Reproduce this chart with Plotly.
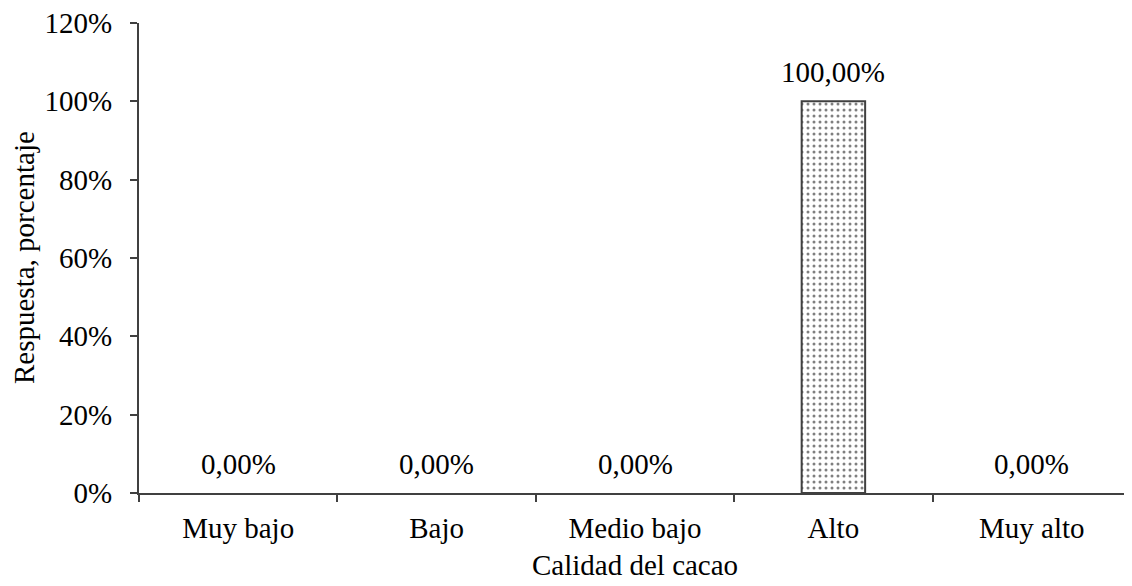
"""
Calidad del cacao: distribución de respuestas.
"""

import plotly.graph_objects as go

categorias = ["Muy bajo", "Bajo", "Medio bajo", "Alto", "Muy alto"]
respuesta = [0.0, 0.0, 0.0, 1.0, 0.0]
ticks_y = [0, 0.2, 0.4, 0.6, 0.8, 1.0, 1.2]

FUENTE = "Liberation Serif, Times New Roman, serif"
EJE = "#404040"
TAM = 29

fig = go.Figure()
fig.add_trace(
    go.Bar(
        x=categorias,
        y=respuesta,
        width=0.32,
        marker=dict(
            color="white",
            line=dict(color=EJE, width=[2 if v > 0 else 0 for v in respuesta]),
            pattern=dict(shape=".", fgcolor="black", bgcolor="white", size=6, solidity=0.2),
        ),
        hovertemplate="%{x}<br>%{y:.2%}<extra></extra>",
    )
)

# etiquetas de valor sobre cada barra
for cat, val in zip(categorias, respuesta):
    fig.add_annotation(
        x=cat,
        y=val,
        text=f"{val * 100:.2f}%".replace(".", ","),
        showarrow=False,
        yanchor="bottom",
        yshift=11,
        font=dict(size=TAM, color="black", family=FUENTE),
    )

# títulos de ejes como anotaciones para fijar su posición
fig.add_annotation(
    xref="paper", yref="paper", x=0.5, y=0,
    yanchor="top", yshift=-54,
    text="Calidad del cacao", showarrow=False,
    font=dict(size=TAM, color="black", family=FUENTE),
)
fig.add_annotation(
    xref="paper", yref="paper", x=0, y=0.5,
    xanchor="center", yanchor="middle", xshift=-115,
    textangle=-90,
    text="Respuesta, porcentaje", showarrow=False,
    font=dict(size=TAM, color="black", family=FUENTE),
)

# la página deja 8 px de margen en el body: se compensa en el tamaño
fig.update_layout(
    width=1124,
    height=578,
    separators=",.",
    plot_bgcolor="white",
    paper_bgcolor="white",
    showlegend=False,
    font=dict(family=FUENTE, size=TAM, color="black"),
    margin=dict(l=131, r=1, t=15, b=93),
)
fig.update_xaxes(
    automargin=False,
    showline=True,
    linecolor=EJE,
    linewidth=2,
    ticks="outside",
    tickson="boundaries",
    ticklen=7,
    tickwidth=2,
    tickcolor=EJE,
    showgrid=False,
    ticklabelstandoff=8,
    ticklabeloverflow="allow",
)
fig.update_yaxes(
    automargin=False,
    range=[0, 1.2],
    tickvals=ticks_y,
    tickformat=".0%",
    showline=True,
    linecolor=EJE,
    linewidth=2,
    ticks="outside",
    ticklen=7,
    tickwidth=2,
    tickcolor=EJE,
    showgrid=False,
    zeroline=False,
    ticklabelstandoff=12,
    ticklabeloverflow="allow",
)

fig.write_html("out.html")
